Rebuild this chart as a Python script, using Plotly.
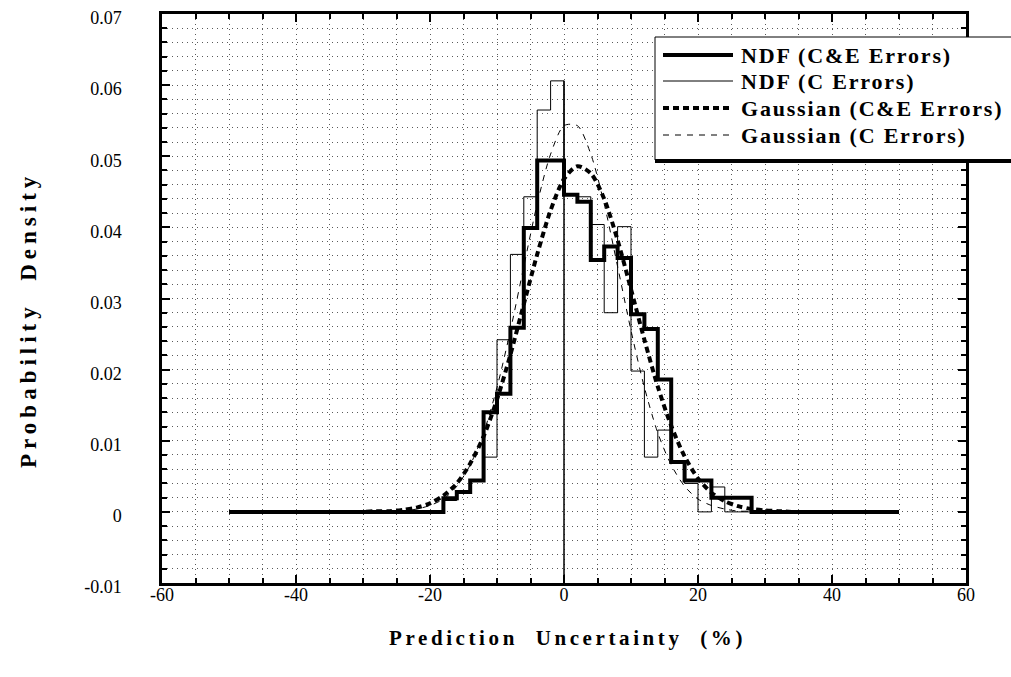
import plotly.graph_objects as go

# ---- axes ---------------------------------------------------------------
X_RANGE = [-60, 60]
Y_RANGE = [-0.01, 0.07]
X_TICKS = [-60, -40, -20, 0, 20, 40, 60]
X_TICK_TEXT = ["-60", "-40", "-20", "0", "20", "40", "60"]
Y_TICKS = [-0.01, 0.0, 0.01, 0.02, 0.03, 0.04, 0.05, 0.06, 0.07]
Y_TICK_TEXT = ["-0.01", "0", "0.01", "0.02", "0.03", "0.04", "0.05", "0.06", "0.07"]

# ---- histograms (2 % bins from -18 % to +28 %) ---------------------------
BIN_EDGES = list(range(-18, 30, 2))
SUPPORT = [-50, 50]          # extent of the C&E density baseline
NDF_CE = [0.0019, 0.0028, 0.0044, 0.0140, 0.0166, 0.0259, 0.0399, 0.0494,
          0.0494, 0.0446, 0.0436, 0.0354, 0.0373, 0.0357, 0.0278, 0.0257,
          0.0186, 0.0070, 0.0044, 0.0044, 0.0020, 0.0020, 0.0020]
NDF_C = [0.0016, 0.0028, 0.0044, 0.0077, 0.0242, 0.0362, 0.0443, 0.0565,
         0.0606, 0.0446, 0.0443, 0.0404, 0.0280, 0.0401, 0.0198, 0.0077,
         0.0115, 0.0070, 0.0040, 0.0000, 0.0035, 0.0000, 0.0000]

# ---- fitted Gaussian curves ---------------------------------------------
GAUSS_CE_X = list(range(-34, 36, 2))
GAUSS_CE = [0.0000, 0.0000, 0.0000, 0.0001, 0.0001, 0.0003, 0.0006, 0.0012,
            0.0023, 0.0040, 0.0068, 0.0106, 0.0158, 0.0221, 0.0292, 0.0362,
            0.0424, 0.0468, 0.0486, 0.0476, 0.0440, 0.0382, 0.0313, 0.0242,
            0.0176, 0.0121, 0.0078, 0.0047, 0.0027, 0.0015, 0.0008, 0.0004,
            0.0002, 0.0001, 0.0000]
GAUSS_C_X = list(range(-30, 32, 2))
GAUSS_C = [0.0000, 0.0000, 0.0001, 0.0001, 0.0004, 0.0009, 0.0018, 0.0036,
           0.0066, 0.0111, 0.0175, 0.0255, 0.0345, 0.0433, 0.0503, 0.0543,
           0.0543, 0.0503, 0.0433, 0.0345, 0.0255, 0.0175, 0.0111, 0.0066,
           0.0036, 0.0018, 0.0009, 0.0004, 0.0001, 0.0001, 0.0000]

LEGEND_LABELS = ["NDF (C&E Errors)", "NDF (C Errors)",
                 "Gaussian (C&E Errors)", "Gaussian (C Errors)"]
X_TITLE = "Prediction  Uncertainty  (%)"
Y_TITLE = "Probability  Density"

SERIF = "Liberation Serif, Times New Roman, serif"
THICK_DASH = "6px,4px"
THIN_DASH = "6px,6px"

fig = go.Figure()

# C-error histogram as a step outline (thin)
thin_x = [BIN_EDGES[0] - 2] + BIN_EDGES
thin_y = [0.0] + NDF_C + [0.0]
fig.add_trace(go.Scatter(x=thin_x, y=thin_y, mode="lines", line_shape="hv",
                         line=dict(color="black", width=1), showlegend=False,
                         hoverinfo="skip"))
# zero line running up the right edge of the tallest C-error bin
peak_bin = NDF_C.index(max(NDF_C))
fig.add_trace(go.Scatter(x=[BIN_EDGES[peak_bin + 1]] * 2,
                         y=[Y_RANGE[0], NDF_C[peak_bin]], mode="lines",
                         line=dict(color="black", width=1.5),
                         showlegend=False, hoverinfo="skip"))

# Gaussian (C errors), thin dashed
fig.add_trace(go.Scatter(x=GAUSS_C_X, y=GAUSS_C, mode="lines",
                         line=dict(color="black", width=1, dash=THIN_DASH,
                                   shape="spline", smoothing=0.8),
                         showlegend=False, hoverinfo="skip"))
# Gaussian (C&E errors), heavy short dashes
fig.add_trace(go.Scatter(x=GAUSS_CE_X, y=GAUSS_CE, mode="lines",
                         line=dict(color="black", width=4, dash=THICK_DASH,
                                   shape="spline", smoothing=0.8),
                         showlegend=False, hoverinfo="skip"))

# C&E-error histogram as a heavy step outline
thick_x = [SUPPORT[0]] + BIN_EDGES + [SUPPORT[1]]
thick_y = [0.0] + NDF_CE + [0.0, 0.0]
fig.add_trace(go.Scatter(x=thick_x, y=thick_y, mode="lines", line_shape="hv",
                         line=dict(color="black", width=4), showlegend=False,
                         hoverinfo="skip"))

# ---- hand-drawn legend panel ------------------------------------------
W, H = 1011, 677
M_L, M_R, M_T, M_B = 162, 45, 14, 94
PW, PH = W - M_L - M_R, H - M_T - M_B


def px(xp):
    return (xp - M_L) / PW


def py(yp):
    return (H - M_B - yp) / PH


shapes = [
    dict(type="rect", xref="paper", yref="paper", x0=px(655), x1=px(1040),
         y0=py(160), y1=py(37), fillcolor="white",
         line=dict(color="black", width=1), layer="above"),
    dict(type="line", xref="paper", yref="paper", x0=px(655), x1=px(1040),
         y0=py(161), y1=py(161), line=dict(color="black", width=4),
         layer="above"),
]
row_y = [55, 81, 108, 135]
samples = [dict(color="black", width=4), dict(color="black", width=1),
           dict(color="black", width=4, dash=THICK_DASH),
           dict(color="black", width=1, dash=THIN_DASH)]
annotations = []
for ry, sample, label in zip(row_y, samples, LEGEND_LABELS):
    shapes.append(dict(type="line", xref="paper", yref="paper",
                       x0=px(663), x1=px(733), y0=py(ry), y1=py(ry),
                       line=sample, layer="above"))
    annotations.append(dict(
        xref="paper", yref="paper", x=px(739), y=py(ry), xanchor="left",
        yanchor="middle", showarrow=False,
        text='<span style="letter-spacing:1.8px">' + label + "</span>",
        font=dict(family=SERIF, size=22, color="black", weight="bold")))

annotations.append(dict(
    xref="paper", yref="paper", x=px(567), y=py(638), xanchor="center",
    yanchor="middle", showarrow=False,
    text='<span style="letter-spacing:3.6px">' + X_TITLE + "</span>",
    font=dict(family=SERIF, size=21, color="black", weight="bold")))
annotations.append(dict(
    xref="paper", yref="paper", x=px(28), y=py(320), xanchor="center",
    yanchor="middle", showarrow=False, textangle=-90,
    text='<span style="letter-spacing:5px">' + Y_TITLE + "</span>",
    font=dict(family=SERIF, size=23, color="black", weight="bold")))

GRID = dict(showgrid=True, gridcolor="#5a5a5a", gridwidth=1,
            griddash="1px,4px")

fig.update_layout(
    width=W, height=H,
    margin=dict(l=M_L, r=M_R, t=M_T, b=M_B, autoexpand=False),
    paper_bgcolor="white", plot_bgcolor="white",
    showlegend=False,
    shapes=shapes, annotations=annotations,
    font=dict(family=SERIF, size=18, color="black"),
    xaxis=dict(range=X_RANGE, tickmode="array", tickvals=X_TICKS,
               ticktext=X_TICK_TEXT, ticks="inside", ticklen=8, tickwidth=1.5,
               tickcolor="black", showline=True, linecolor="black",
               linewidth=2.5, mirror="ticks", zeroline=False,
               automargin=False, ticklabelstandoff=-6, **GRID,
               minor=dict(dtick=5, tick0=0, ticks="inside", ticklen=5,
                          tickcolor="black", **GRID)),
    yaxis=dict(range=Y_RANGE, tickmode="array", tickvals=Y_TICKS,
               ticktext=Y_TICK_TEXT, ticks="inside", ticklen=8, tickwidth=1.5,
               tickcolor="black", showline=True, linecolor="black",
               linewidth=2.5, mirror="ticks", zeroline=False,
               automargin=False, ticklabelstandoff=34, ticklabelshift=4,
               **GRID,
               minor=dict(dtick=0.002, tick0=0, ticks="inside", ticklen=5,
                          tickcolor="black", **GRID)),
)

fig.write_html("out.html")
